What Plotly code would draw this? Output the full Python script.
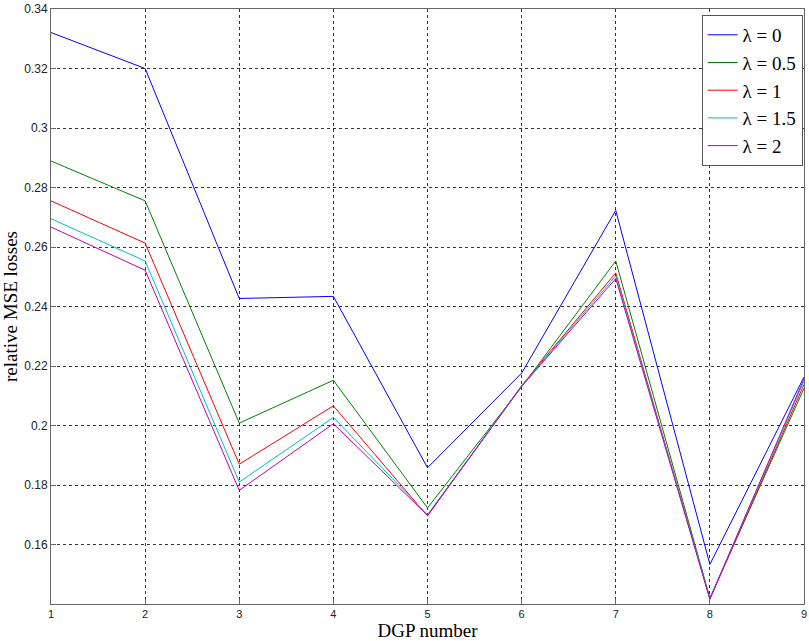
import plotly.graph_objects as go

dgp = [1, 2, 3, 4, 5, 6, 7, 8, 9]
lam0 = [0.3321, 0.3200, 0.2427, 0.2434, 0.1858, 0.2176, 0.2723, 0.1533, 0.2163]
lam05 = [0.2889, 0.2755, 0.2008, 0.2152, 0.1723, 0.2130, 0.2553, 0.1420, 0.2125]
lam1 = [0.2755, 0.2613, 0.1870, 0.2066, 0.1696, 0.2134, 0.2513, 0.1416, 0.2138]
lam15 = [0.2695, 0.2553, 0.1810, 0.2027, 0.1700, 0.2133, 0.2503, 0.1418, 0.2150]
lam2 = [0.2667, 0.2522, 0.1782, 0.2006, 0.1698, 0.2131, 0.2494, 0.1417, 0.2157]
names = ["λ = 0", "λ = 0.5", "λ = 1", "λ = 1.5", "λ = 2"]
colors = ["#0000FF", "#008000", "#FF0000", "#00BFBF", "#BF00BF"]
ytick_vals = [0.16, 0.18, 0.20, 0.22, 0.24, 0.26, 0.28, 0.30, 0.32, 0.34]
ytick_text = ["0.16", "0.18", "0.2", "0.22", "0.24", "0.26", "0.28", "0.3", "0.32", "0.34"]
xtick_vals = [1, 2, 3, 4, 5, 6, 7, 8, 9]

fig = go.Figure()
for ys, n, c in zip([lam0, lam05, lam1, lam15, lam2], names, colors):
    fig.add_trace(go.Scatter(x=dgp, y=ys, mode="lines", name=n,
                             line=dict(color=c, width=1)))

fig.update_layout(
    width=809, height=641,
    margin=dict(l=51, r=2, t=9, b=37),
    paper_bgcolor="white", plot_bgcolor="white",
    showlegend=True,
    legend=dict(x=0.864, y=0.99, xanchor="left", yanchor="top",
                bgcolor="white", bordercolor="#555", borderwidth=1,
                font=dict(family="Liberation Serif", size=19, color="black"),
                tracegroupgap=0, itemwidth=30),
    xaxis=dict(range=[1, 9], tickvals=xtick_vals, ticklabeloverflow="allow",
               showgrid=True, gridcolor="#333", griddash="dot", gridwidth=1,
               showline=True, linecolor="#666", linewidth=1, mirror=True,
               ticks="inside", ticklen=5, tickcolor="#666", zeroline=False,
               tickfont=dict(family="Liberation Sans Narrow, Liberation Sans", size=11, color="#222"),
               title=dict(text="DGP number", standoff=4,
                          font=dict(family="Liberation Serif", size=19, color="black"))),
    yaxis=dict(range=[0.14, 0.34], tickvals=ytick_vals, ticktext=ytick_text,
               showgrid=True, gridcolor="#333", griddash="dot", gridwidth=1,
               showline=True, linecolor="#666", linewidth=1, mirror=True,
               ticks="inside", ticklen=5, tickcolor="#666", zeroline=False,
               tickfont=dict(family="Liberation Sans", size=12, color="#222"),
               title=dict(text="relative MSE losses", standoff=6,
                          font=dict(family="Liberation Serif", size=19, color="black"))),
)

fig.write_html("out.html")
